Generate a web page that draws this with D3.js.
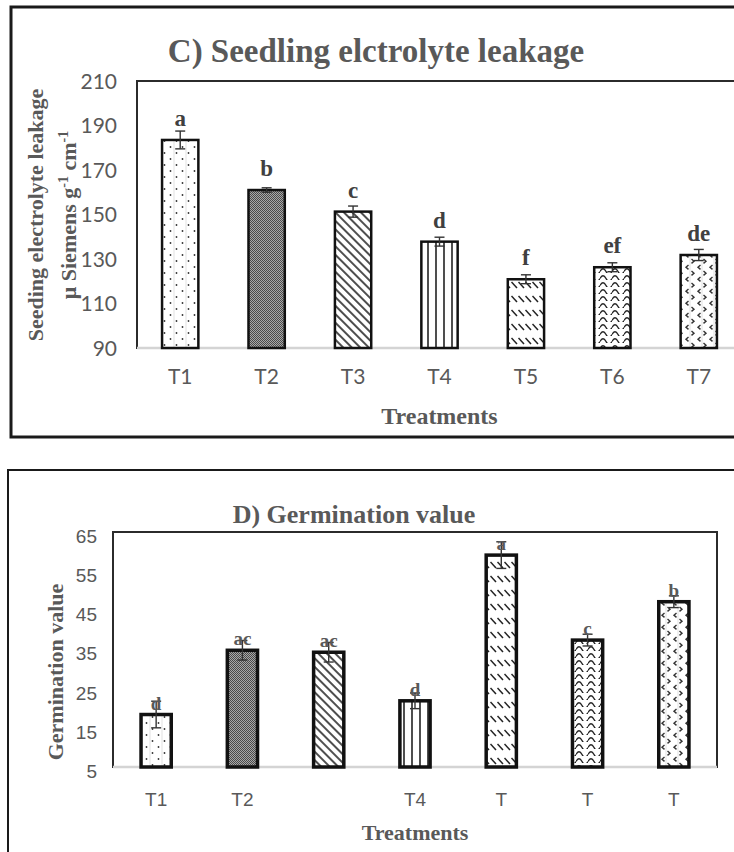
<!DOCTYPE html>
<html>
<head>
<meta charset="utf-8">
<script src="https://cdn.jsdelivr.net/npm/d3@7"></script>
<style>
  body { margin: 0; background: #fff; }
  svg { display: block; }
  .tick text { fill: #595959; }
</style>
</head>
<body>
<div id="chart"></div>
<script>
// data
const treatments = ["T1", "T2", "T3", "T4", "T5", "T6", "T7"];

const leakageValues = [183.5, 161, 151.3, 137.8, 120.9, 126.3, 131.8];
const leakageErrors = [4, 1, 2.5, 2, 2, 2, 2.5];
const leakageLetters = ["a", "b", "c", "d", "f", "ef", "de"];
const leakageTicks = [90, 110, 130, 150, 170, 190, 210];

const germValues = [18.4, 34.8, 34.3, 21.9, 59.1, 37.4, 47.2];
const germErrors = [3.4, 2.5, 2.5, 2, 3.4, 1.5, 1.5];
const germLetters = ["d", "ac", "ac", "d", "a", "c", "b"];
const germTickLabels = ["T1", "T2", "", "T4", "T", "T", "T"];
const germTicks = [5, 15, 25, 35, 45, 55, 65];

const patternIds = ["dots", "checker", "diag", "vert", "dashdiag", "wave", "divot"];

const W = 734, H = 852;
const serif = "'Liberation Serif', 'Times New Roman', serif";

let svg = d3.select("#chart").append("svg")
  .attr("width", W)
  .attr("height", H);

svg.append("rect").attr("width", W).attr("height", H).attr("fill", "#fff");

// ---- fill patterns (one per treatment) ----
let defs = svg.append("defs");

function newPattern(id, w, h, rotate) {
  let p = defs.append("pattern")
    .attr("id", id)
    .attr("patternUnits", "userSpaceOnUse")
    .attr("width", w)
    .attr("height", h);
  if (rotate) p.attr("patternTransform", "rotate(" + rotate + ")");
  p.append("rect").attr("width", w).attr("height", h).attr("fill", "#fff");
  return p;
}

let pDots = newPattern("dots", 12, 12);
pDots.append("line").attr("x1", 6).attr("x2", 6).attr("y1", 0).attr("y2", 12)
  .attr("stroke", "#e2e2e2").attr("stroke-width", 1);
pDots.append("circle").attr("cx", 2.5).attr("cy", 3).attr("r", 0.9).attr("fill", "#333");
pDots.append("circle").attr("cx", 8.5).attr("cy", 9).attr("r", 0.9).attr("fill", "#333");

let pChk = newPattern("checker", 2, 2);
pChk.select("rect").attr("fill", "#a8a8a8");
pChk.append("rect").attr("width", 1).attr("height", 1).attr("fill", "#4a4a4a");
pChk.append("rect").attr("x", 1).attr("y", 1).attr("width", 1).attr("height", 1).attr("fill", "#4a4a4a");

let pDiag = newPattern("diag", 6, 6, -45);
pDiag.append("line").attr("x1", 3).attr("x2", 3).attr("y1", 0).attr("y2", 6)
  .attr("stroke", "#222").attr("stroke-width", 1.6);

let pVert = newPattern("vert", 8, 8);
pVert.append("line").attr("x1", 4).attr("x2", 4).attr("y1", 0).attr("y2", 8)
  .attr("stroke", "#222").attr("stroke-width", 1.6);

let pDash = newPattern("dashdiag", 7, 14);
pDash.append("line").attr("x1", 0.5).attr("y1", 2).attr("x2", 6).attr("y2", 8)
  .attr("stroke", "#222").attr("stroke-width", 1.5);

let pWave = newPattern("wave", 12, 7);
pWave.append("path").attr("d", "M0,5.5 Q3,0 6,5.5 T12,5.5")
  .attr("fill", "none").attr("stroke", "#222").attr("stroke-width", 1.4);

let pDiv = newPattern("divot", 12, 12);
pDiv.append("line").attr("x1", 6).attr("x2", 6).attr("y1", 0).attr("y2", 12)
  .attr("stroke", "#e2e2e2").attr("stroke-width", 1);
pDiv.append("path").attr("d", "M4.5,1 L2,3.2 L4.5,5.4").attr("fill", "none")
  .attr("stroke", "#333").attr("stroke-width", 1.4);
pDiv.append("path").attr("d", "M7.5,7 L10,9.2 L7.5,11.4").attr("fill", "none")
  .attr("stroke", "#333").attr("stroke-width", 1.4);

// ---- one panel ----
function drawPanel(cfg) {
  let g = svg.append("g");

  // outer frame of the panel
  g.append("rect")
    .attr("x", cfg.border.x).attr("y", cfg.border.y)
    .attr("width", cfg.border.w).attr("height", cfg.border.h)
    .attr("fill", "none")
    .attr("stroke", "#1a1a1a")
    .attr("stroke-width", cfg.border.sw);

  let x = d3.scaleBand()
    .domain(treatments)
    .range([cfg.left, cfg.right])
    .paddingInner(cfg.pad)
    .paddingOuter(cfg.pad / 2);

  let y = d3.scaleLinear()
    .domain(cfg.domain)
    .range([cfg.bottom, cfg.top]);

  // plot frame
  g.append("rect")
    .attr("x", cfg.left).attr("y", cfg.top)
    .attr("width", cfg.right - cfg.left).attr("height", cfg.bottom - cfg.top)
    .attr("fill", "none")
    .attr("stroke", "#2b2b2b")
    .attr("stroke-width", 2);

  g.append("line")
    .attr("x1", cfg.left).attr("x2", cfg.right)
    .attr("y1", cfg.bottom).attr("y2", cfg.bottom)
    .attr("stroke", "#d4d4d4")
    .attr("stroke-width", 2.5);

  // y axis
  let axisY = g.append("g")
    .attr("transform", "translate(" + cfg.left + ",0)")
    .call(d3.axisLeft(y).tickValues(cfg.ticks).tickSize(0).tickPadding(cfg.yPad));
  axisY.select(".domain").remove();
  axisY.selectAll("text")
    .attr("font-family", cfg.tickFont)
    .attr("font-size", cfg.tickSize)
    .attr("dy", cfg.tickDy);

  // x axis
  let axisX = g.append("g")
    .attr("transform", "translate(0," + cfg.bottom + ")")
    .call(d3.axisBottom(x).tickSize(0).tickPadding(cfg.xPad)
      .tickFormat((d, i) => cfg.xLabels[i]));
  axisX.select(".domain").remove();
  axisX.selectAll("text")
    .attr("font-family", cfg.tickFont)
    .attr("font-size", cfg.tickSize);

  // bars
  g.selectAll("rect.bar")
    .data(cfg.values)
    .enter()
    .append("rect")
      .attr("class", "bar")
      .attr("x", (d, i) => x(treatments[i]))
      .attr("y", (d) => y(d))
      .attr("width", x.bandwidth())
      .attr("height", (d) => cfg.bottom - y(d))
      .attr("fill", (d, i) => "url(#" + patternIds[i] + ")")
      .attr("stroke", "#111")
      .attr("stroke-width", cfg.barStroke);

  // error bars
  let err = g.selectAll("g.err")
    .data(cfg.values)
    .enter()
    .append("g")
      .attr("class", "err")
      .attr("stroke", "#333")
      .attr("stroke-width", 1.4);
  err.append("line")
    .attr("x1", (d, i) => x(treatments[i]) + x.bandwidth() / 2)
    .attr("x2", (d, i) => x(treatments[i]) + x.bandwidth() / 2)
    .attr("y1", (d, i) => y(d - cfg.errors[i]))
    .attr("y2", (d, i) => y(d + cfg.errors[i]));
  [1, -1].forEach((s) => {
    err.append("line")
      .attr("x1", (d, i) => x(treatments[i]) + x.bandwidth() / 2 - 5)
      .attr("x2", (d, i) => x(treatments[i]) + x.bandwidth() / 2 + 5)
      .attr("y1", (d, i) => y(d + s * cfg.errors[i]))
      .attr("y2", (d, i) => y(d + s * cfg.errors[i]));
  });

  // significance letters
  g.selectAll("text.letter")
    .data(cfg.values)
    .enter()
    .append("text")
      .attr("class", "letter")
      .attr("x", (d, i) => x(treatments[i]) + x.bandwidth() / 2)
      .attr("y", (d) => y(d) - cfg.letterGap)
      .attr("text-anchor", "middle")
      .attr("font-family", serif)
      .attr("font-weight", "bold")
      .attr("font-size", cfg.letterSize)
      .attr("fill", cfg.letterColor)
      .text((d, i) => cfg.letters[i]);

  // title
  g.append("text")
    .attr("x", cfg.titleX).attr("y", cfg.titleY)
    .attr("text-anchor", "middle")
    .attr("font-family", serif)
    .attr("font-weight", "bold")
    .attr("font-size", cfg.titleSize)
    .attr("fill", "#595959")
    .text(cfg.title);

  // x title
  g.append("text")
    .attr("x", (cfg.left + cfg.right) / 2)
    .attr("y", cfg.xTitleY)
    .attr("text-anchor", "middle")
    .attr("font-family", serif)
    .attr("font-weight", "bold")
    .attr("font-size", cfg.xTitleSize)
    .attr("fill", "#595959")
    .text("Treatments");

  // y title (one or two lines)
  let yt = g.append("text")
    .attr("transform", "translate(" + cfg.yTitleX + "," + cfg.yTitleY + ") rotate(-90)")
    .attr("text-anchor", "middle")
    .attr("font-family", serif)
    .attr("font-weight", "bold")
    .attr("font-size", cfg.yTitleSize)
    .attr("fill", "#595959");
  cfg.yTitle(yt);
}

drawPanel({
  border: { x: 11, y: 7, w: 800, h: 430, sw: 3 },
  left: 137, right: 742, top: 81, bottom: 348,
  pad: 0.58,
  domain: [90, 210],
  ticks: leakageTicks,
  values: leakageValues,
  errors: leakageErrors,
  letters: leakageLetters,
  xLabels: treatments,
  tickFont: "Lato, 'Open Sans', sans-serif",
  tickSize: 21,
  tickDy: "0.35em",
  yPad: 20,
  xPad: 21,
  barStroke: 2.5,
  letterGap: 14,
  letterSize: 23,
  letterColor: "#404040",
  title: "C) Seedling elctrolyte leakage",
  titleX: 376, titleY: 62, titleSize: 33,
  xTitleY: 424, xTitleSize: 24,
  yTitleX: 35, yTitleY: 215, yTitleSize: 22,
  yTitle: (t) => {
    t.append("tspan").attr("x", 0).attr("dy", "0.35em").text("Seeding electrolyte leakage");
    let l2 = t.append("tspan").attr("x", 0).attr("dy", 33);
    l2.append("tspan").text("\u03bc Siemens g");
    l2.append("tspan").attr("dy", -8).attr("font-size", 14).text("-1");
    l2.append("tspan").attr("dy", 8).text(" cm");
    l2.append("tspan").attr("dy", -8).attr("font-size", 14).text("-1");
  }
});

drawPanel({
  border: { x: 8, y: 470, w: 800, h: 500, sw: 2 },
  left: 113, right: 717, top: 532, bottom: 767,
  pad: 0.65,
  domain: [5, 65],
  ticks: germTicks,
  values: germValues,
  errors: germErrors,
  letters: germLetters,
  xLabels: germTickLabels,
  tickFont: "'Liberation Sans', Arial, sans-serif",
  tickSize: 19,
  tickDy: "0.55em",
  yPad: 16,
  xPad: 26,
  barStroke: 3.5,
  letterGap: 5,
  letterSize: 19,
  letterColor: "#595959",
  title: "D) Germination value",
  titleX: 354, titleY: 523, titleSize: 26,
  xTitleY: 840, xTitleSize: 22,
  yTitleX: 55, yTitleY: 672, yTitleSize: 22,
  yTitle: (t) => {
    t.append("tspan").attr("x", 0).attr("dy", "0.35em").text("Germination value");
  }
});
</script>
</body>
</html>
